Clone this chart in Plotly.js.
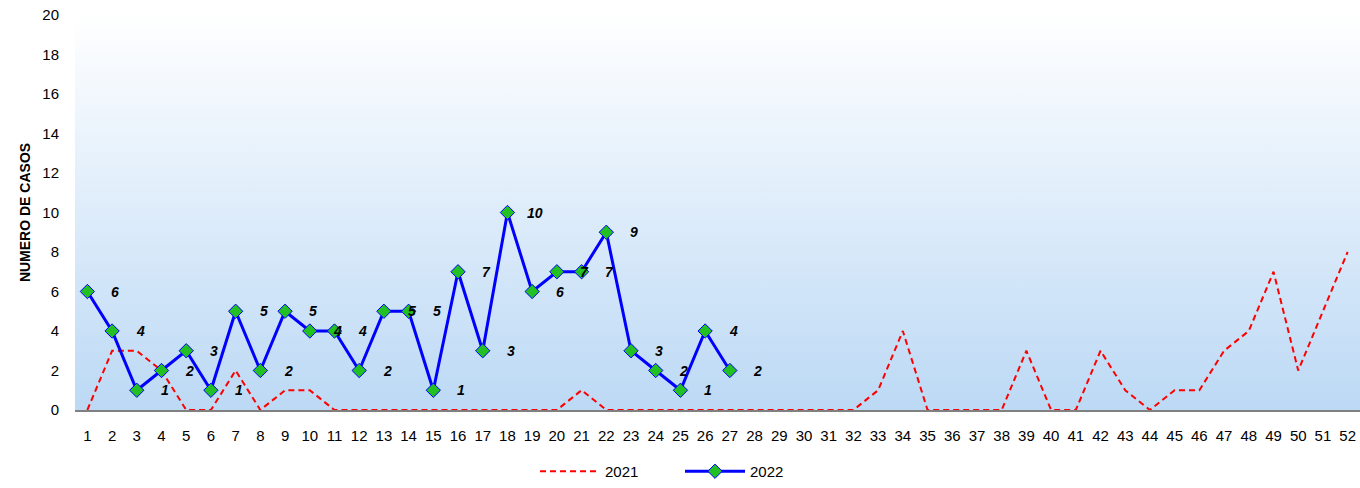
<!DOCTYPE html>
<html>
<head>
<meta charset="utf-8">
<script src="https://cdn.plot.ly/plotly-3.0.1.min.js"></script>
<style>
  body { margin: 0; background: #fff; }
  #wrap { position: relative; width: 1360px; height: 488px; }
  #bg { position: absolute; left: 75px; top: 15px; width: 1285px; height: 395px;
        background: linear-gradient(#ffffff, #bcd9f5); }
  #chart { position: absolute; left: 0; top: 0; width: 1360px; height: 488px; }
</style>
</head>
<body>
<div id="wrap"><div id="bg"></div><div id="chart"></div></div>
<script>
const weeks = Array.from({ length: 52 }, (_, i) => i + 1);
const cases2021 = [0, 3, 3, 2, 0, 0, 2, 0, 1, 1, 0, 0, 0, 0, 0, 0, 0, 0, 0, 0,
  1, 0, 0, 0, 0, 0, 0, 0, 0, 0, 0, 0, 1, 4, 0, 0, 0, 0, 3, 0,
  0, 3, 1, 0, 1, 1, 3, 4, 7, 2, 5, 8];
const cases2022 = [6, 4, 1, 2, 3, 1, 5, 2, 5, 4, 4, 2, 5, 5, 1, 7, 3, 10, 6, 7, 7, 9, 3, 2, 1, 4, 2];
const weeks2022 = weeks.slice(0, cases2022.length);

const traces = [
  {
    x: weeks, y: cases2021, name: '2021', mode: 'lines',
    line: { color: '#ff0000', width: 2, dash: '6px,4px' },
  },
  {
    x: weeks2022, y: cases2022, name: '2022', mode: 'lines+markers',
    line: { color: '#0000ff', width: 3 },
    marker: { symbol: 'diamond', size: 11, color: '#22c022', line: { color: '#0000ff', width: 1 } },
  },
];

const annotations = weeks2022.map((w, i) => ({
  x: w, y: cases2022[i], text: '<b><i>' + cases2022[i] + '</i></b>',
  showarrow: false, xshift: 28, font: { size: 14, color: '#000' },
}));

const layout = {
  width: 1360, height: 488,
  margin: { l: 75, r: 0, t: 15, b: 78 },
  paper_bgcolor: 'rgba(0,0,0,0)', plot_bgcolor: 'rgba(0,0,0,0)',
  font: { family: 'Liberation Sans, Arial, sans-serif', size: 15, color: '#000' },
  xaxis: {
    range: [0.5, 52.5], tickvals: weeks, showgrid: false, zeroline: false, automargin: false,
    showline: true, linecolor: '#808080', linewidth: 2,
    ticks: 'outside', ticklen: 11, tickcolor: 'rgba(0,0,0,0)',
  },
  yaxis: {
    range: [0, 20], dtick: 2, showgrid: false, zeroline: false, automargin: false,
    ticks: 'outside', ticklen: 12, tickcolor: 'rgba(0,0,0,0)',
    title: { text: '<b>NUMERO DE CASOS</b>', font: { size: 14 }, standoff: 8 },
  },
  showlegend: true,
  legend: {
    orientation: 'h', x: 0.5, xanchor: 'center', xref: 'container',
    y: -0.01, yanchor: 'bottom', yref: 'container', font: { size: 15 },
    entrywidth: 70, itemwidth: 60,
  },
  annotations,
};

Plotly.newPlot('chart', traces, layout, { displayModeBar: false });
</script>
</body>
</html>
